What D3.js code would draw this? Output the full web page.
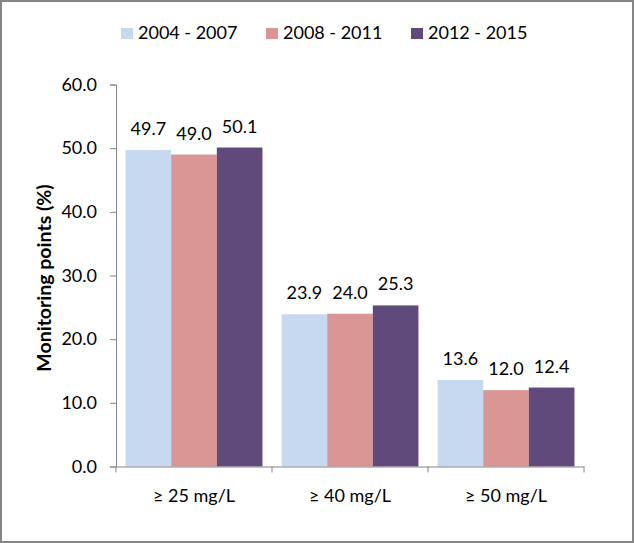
<!DOCTYPE html>
<html>
<head>
<meta charset="utf-8">
<script src="https://cdn.jsdelivr.net/npm/d3@7"></script>
<style>
  body { margin: 0; background: #fff; }
  svg text { font-family: Lato, "Noto Sans", sans-serif; fill: #000; }
</style>
</head>
<body>
<svg id="chart" width="634" height="543"></svg>
<script>
// chart data
var categories = ["≥ 25 mg/L", "≥ 40 mg/L", "≥ 50 mg/L"];
var seriesNames = ["2004 - 2007", "2008 - 2011", "2012 - 2015"];
var series2004 = [49.7, 23.9, 13.6];
var series2008 = [49.0, 24.0, 12.0];
var series2012 = [50.1, 25.3, 12.4];
var yTicks = [0, 10, 20, 30, 40, 50, 60];

var seriesValues = [series2004, series2008, series2012];
var colors = ["#c6d9f1", "#d99694", "#604a7b"];

var svg = d3.select("#chart");
var W = 634, H = 543;
var margin = { left: 116, right: 50, top: 84.5, bottom: 76.5 };

// outer frame
svg.append("rect")
  .attr("x", 1).attr("y", 1)
  .attr("width", W - 2).attr("height", H - 2)
  .attr("fill", "#fff").attr("stroke", "#868686").attr("stroke-width", 2);

var x = d3.scaleBand()
  .domain(categories)
  .range([margin.left, W - margin.right])
  .paddingInner(0).paddingOuter(0);

var xs = d3.scaleBand()
  .domain(d3.range(seriesNames.length))
  .range([0, x.bandwidth()])
  .paddingInner(0).paddingOuter(0.21);

var y = d3.scaleLinear()
  .domain([0, 60])
  .range([H - margin.bottom, margin.top]);

// bars
var groups = svg.append("g").selectAll("g")
  .data(categories)
  .join("g")
  .attr("transform", function(d){ return "translate(" + x(d) + ",0)" });

groups.selectAll("rect")
  .data(function(d, i){ return seriesValues.map(function(s, k){ return { k: k, v: s[i] } }) })
  .join("rect")
  .attr("x", function(d){ return xs(d.k) })
  .attr("width", xs.bandwidth())
  .attr("y", function(d){ return y(d.v) })
  .attr("height", function(d){ return y(0) - y(d.v) })
  .attr("fill", function(d){ return colors[d.k] });

groups.selectAll("text")
  .data(function(d, i){ return seriesValues.map(function(s, k){ return { k: k, v: s[i] } }) })
  .join("text")
  .attr("x", function(d){ return xs(d.k) + xs.bandwidth() / 2 })
  .attr("y", function(d){ return y(d.v) - 15 })
  .attr("text-anchor", "middle")
  .style("font-size", "18px")
  .text(function(d){ return d.v.toFixed(1) });

// y axis
var yAxis = svg.append("g")
  .attr("transform", "translate(" + margin.left + ",0)")
  .call(d3.axisLeft(y).tickValues(yTicks).tickFormat(d3.format(".1f")).tickSize(6).tickPadding(13));
yAxis.select(".domain").attr("stroke", "#868686");
yAxis.selectAll(".tick line").attr("stroke", "#868686");
yAxis.selectAll(".tick text").style("font-size", "18px").attr("fill", "#000");

// x axis
var xAxis = svg.append("g")
  .attr("transform", "translate(0," + y(0) + ")")
  .call(d3.axisBottom(x).tickSize(0).tickPadding(23));
xAxis.select(".domain").attr("stroke", "#868686");
xAxis.selectAll(".tick text").style("font-size", "18px").attr("fill", "#000");
// separator ticks between categories
var edges = categories.map(function(c){ return x(c) }).concat([x.range()[1]]);
xAxis.selectAll(".sep")
  .data(edges)
  .join("line")
  .attr("class", "sep")
  .attr("x1", function(d){ return d })
  .attr("x2", function(d){ return d })
  .attr("y1", 0).attr("y2", 6)
  .attr("stroke", "#868686");

// y axis title
svg.append("text")
  .attr("transform", "translate(51,278) rotate(-90)")
  .attr("text-anchor", "middle")
  .style("font-size", "19.5px")
  .style("font-weight", "bold")
  .text("Monitoring points (%)");

// legend
var legendX = [121, 266, 411];
var legend = svg.append("g").selectAll("g")
  .data(seriesNames)
  .join("g")
  .attr("transform", function(d, i){ return "translate(" + legendX[i] + ",28)" });
legend.append("rect")
  .attr("width", 12).attr("height", 11)
  .attr("fill", function(d, i){ return colors[i] });
legend.append("text")
  .attr("x", 17).attr("y", 11)
  .style("font-size", "18px")
  .text(function(d){ return d });
</script>
</body>
</html>
